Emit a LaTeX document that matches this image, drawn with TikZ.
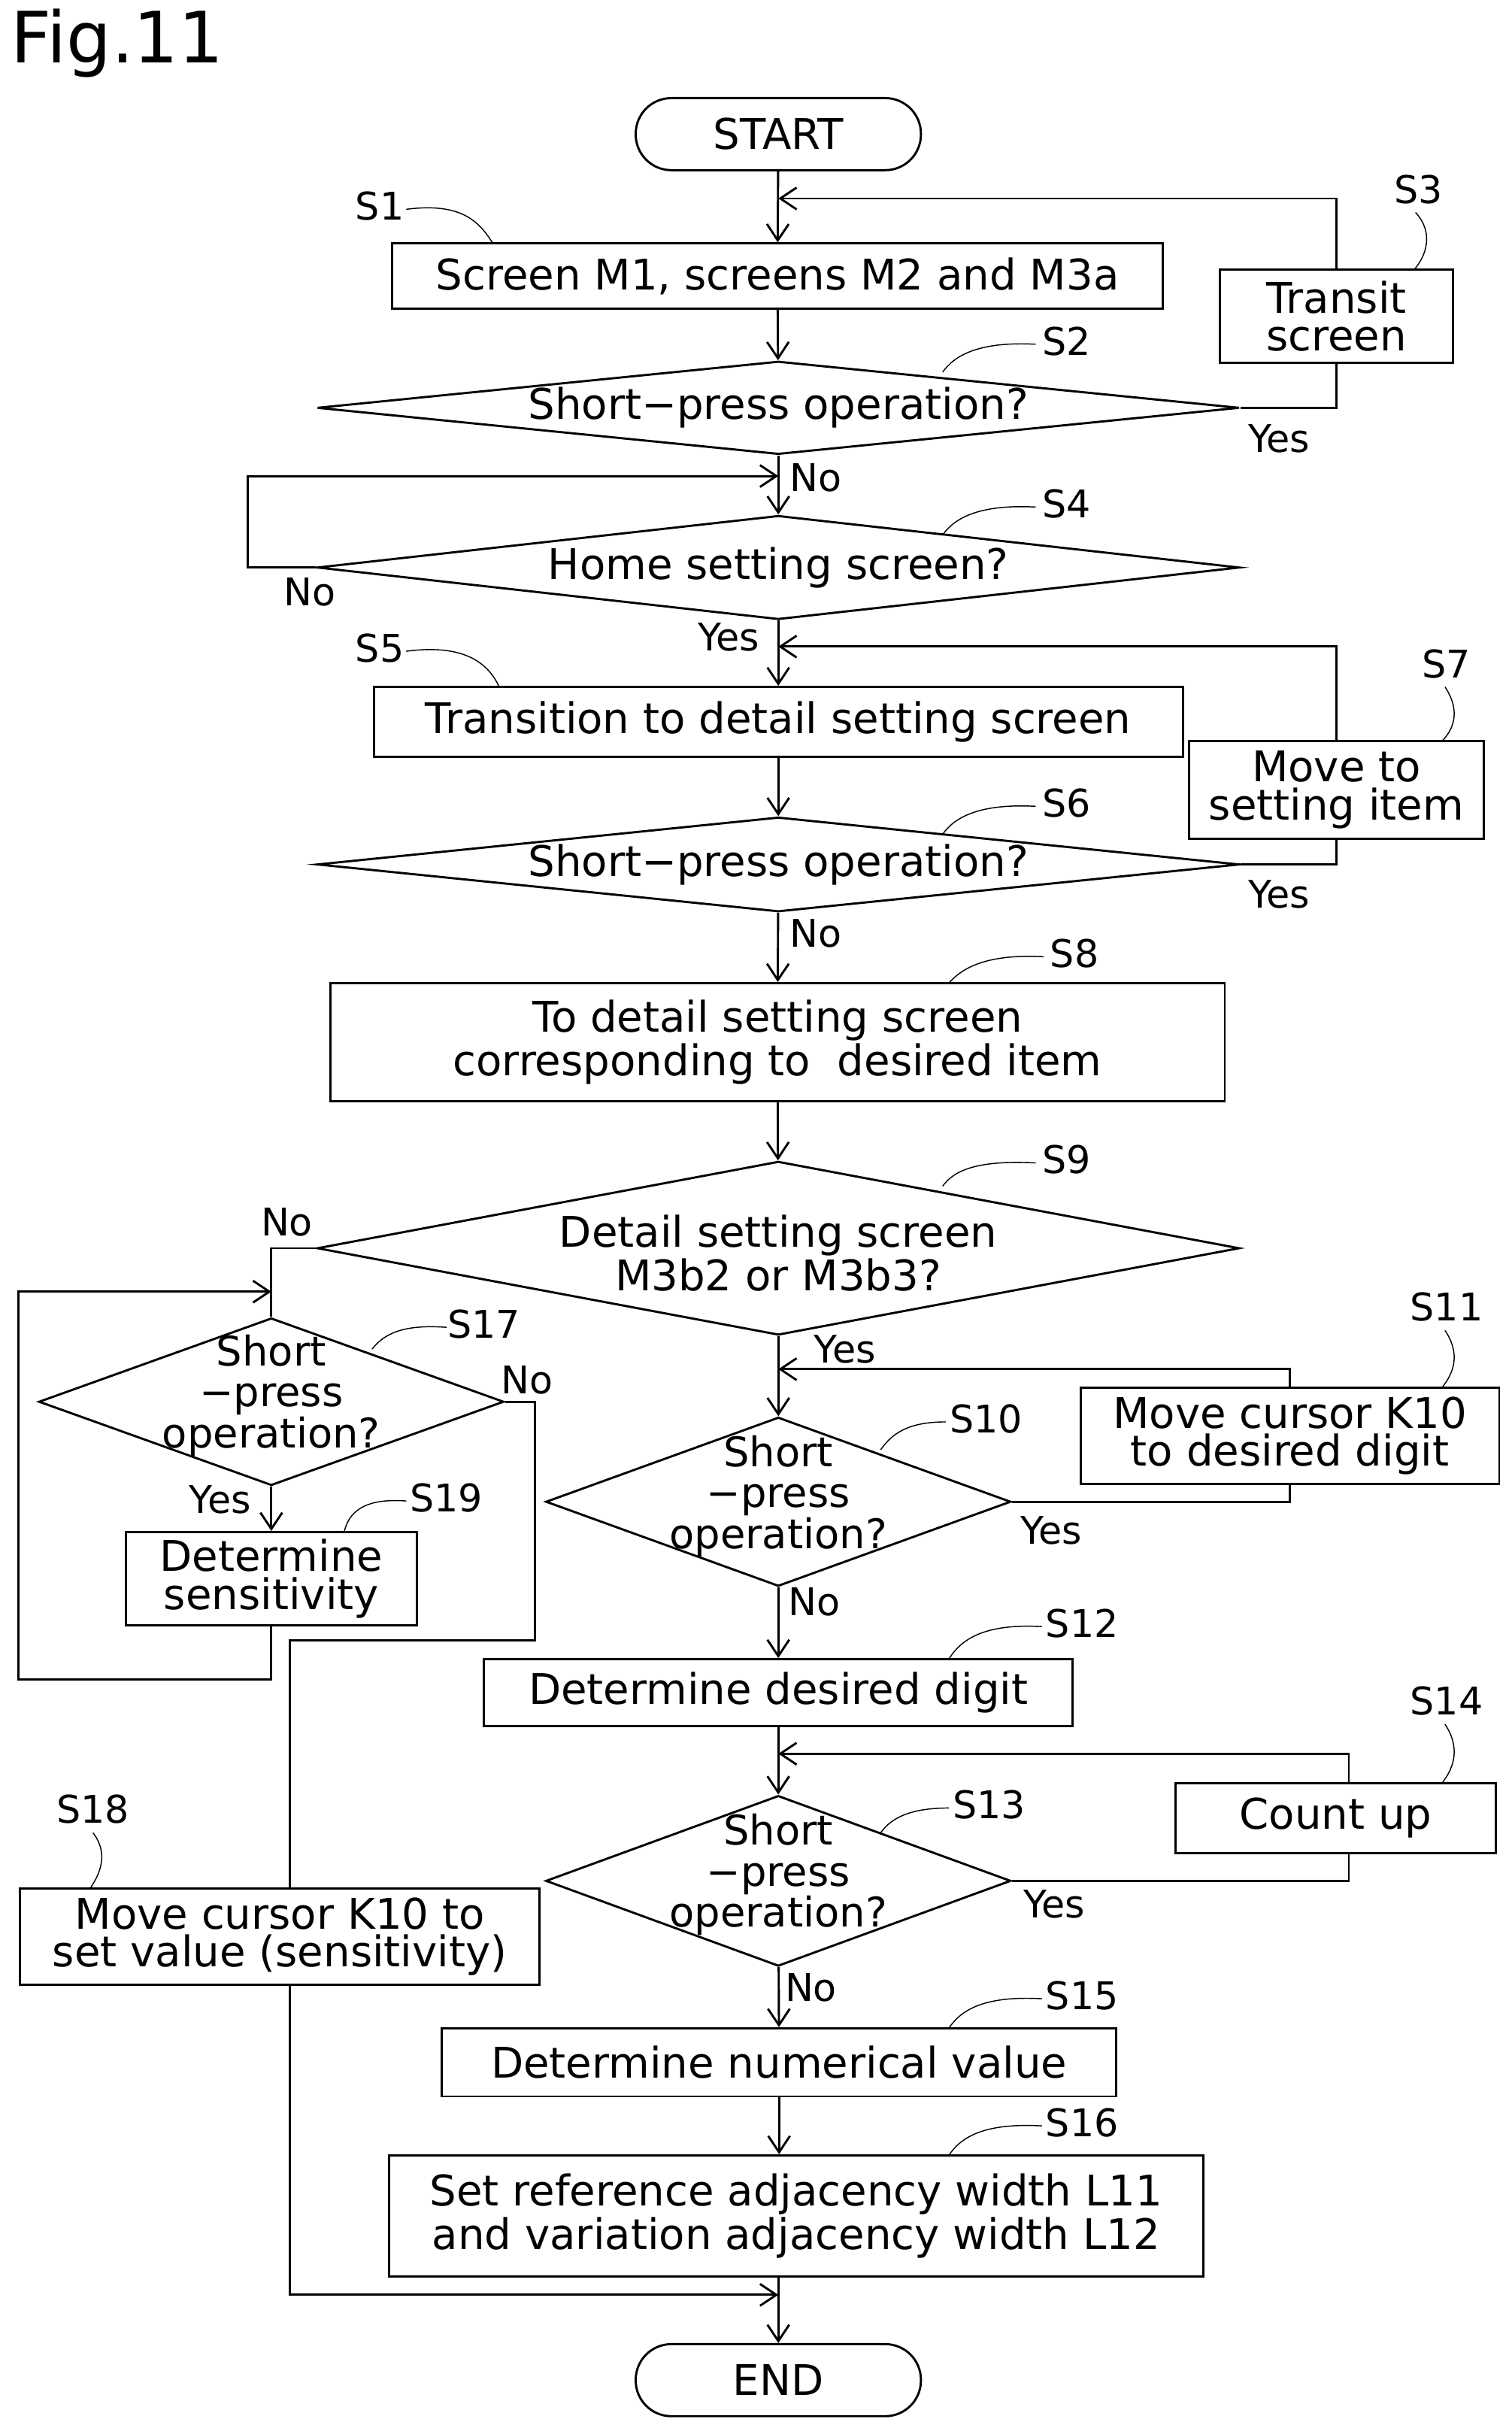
\documentclass[tikz,border=0pt]{standalone}
\usepackage{fontspec}
\setmainfont{DejaVu Sans}
\usetikzlibrary{shapes.geometric,arrows.meta}
\begin{document}
\begin{tikzpicture}[x=0.02cm,y=-0.02cm,
  every node/.style={font=\fontsize{15.5}{18}\selectfont,align=center,inner sep=1pt},
  box/.style={draw,thick,rectangle},
  term/.style={draw,thick,rectangle,rounded corners=0.46cm,minimum width=3.68cm,minimum height=0.93cm},
  dec/.style={draw,thick,diamond,inner sep=0pt},
  small/.style={font=\fontsize{15}{15}\selectfont},
  lab/.style={font=\fontsize{14}{16}\selectfont},
  ar/.style={thick,-{Straight Barb[length=6pt,width=8pt]}},
  ln/.style={thick},
  ld/.style={thin}]
\useasboundingbox (0,0) rectangle (975,1562);
\node[font=\fontsize{26}{30}\selectfont,anchor=west] (fig) at (5,28) {Fig.11};
\node[term] (start) at (502,86.5) {START};
\node[box,minimum width=9.94cm,minimum height=0.84cm] (s1) at (501.5,178) {Screen M1, screens M2 and M3a};
\node[box,minimum width=3.0cm,minimum height=1.2cm,inner sep=0pt] (s3) at (862,204) {Transit\\[-4pt]screen};
\node[dec,minimum width=11.9cm,minimum height=1.2cm,shape aspect=9.92] (s2) at (502,263) {};
\node (t2) at (502,263) {Short−press operation?};
\node[dec,minimum width=11.9cm,minimum height=1.34cm,shape aspect=8.88] (s4) at (502,366) {};
\node (t4) at (502,366) {Home setting screen?};
\node[box,minimum width=10.44cm,minimum height=0.9cm] (s5) at (502,465.5) {Transition to detail setting screen};
\node[box,minimum width=3.8cm,minimum height=1.26cm,inner sep=0pt] (s7) at (862,509.5) {Move to\\[-4pt]setting item};
\node[dec,minimum width=11.9cm,minimum height=1.22cm,shape aspect=9.75] (s6) at (502,557.5) {};
\node (t6) at (502,557.5) {Short−press operation?};
\node[box,minimum width=11.54cm,minimum height=1.52cm] (s8) at (501.5,672) {To detail setting screen\\[-2pt]corresponding to\ \ desired item};
\node[dec,minimum width=11.9cm,minimum height=2.24cm,shape aspect=5.31] (s9) at (502,805) {};
\node (t9) at (502,808) {Detail setting screen\\[-2pt]M3b2 or M3b3?};
\node[dec,minimum width=6.0cm,minimum height=2.16cm,shape aspect=2.78] (s17) at (175,904) {};
\node[small] (t17) at (175,900) {Short\\−press\\operation?};
\node[box,minimum width=3.76cm,minimum height=1.2cm,inner sep=0pt] (s19) at (175,1018) {Determine\\[-4pt]sensitivity};
\node[box,minimum width=6.7cm,minimum height=1.24cm,inner sep=0pt] (s18) at (180.5,1249) {Move cursor K10 to\\[-4pt]set value (sensitivity)};
\node[dec,minimum width=6.0cm,minimum height=2.18cm,shape aspect=2.75] (s10) at (502,968.5) {};
\node[small] (t10) at (502,965) {Short\\−press\\operation?};
\node[box,minimum width=5.4cm,minimum height=1.24cm,inner sep=0pt] (s11) at (832,926) {Move cursor K10\\[-4pt]to desired digit};
\node[box,minimum width=7.6cm,minimum height=0.86cm] (s12) at (502,1091.5) {Determine desired digit};
\node[box,minimum width=4.14cm,minimum height=0.9cm] (s14) at (861.5,1172.5) {Count up};
\node[dec,minimum width=6.0cm,minimum height=2.2cm,shape aspect=2.73] (s13) at (502,1213) {};
\node[small] (t13) at (502,1209) {Short\\−press\\operation?};
\node[box,minimum width=8.7cm,minimum height=0.88cm] (s15) at (502.5,1330) {Determine numerical value};
\node[box,minimum width=10.5cm,minimum height=1.56cm] (s16) at (513.5,1429) {Set reference adjacency width L11\\[-2pt]and variation adjacency width L12};
\node[term] (end) at (502,1535) {END};
% coordinates
\coordinate (j1) at (502,128);
\coordinate (j4) at (502,307);
\coordinate (j5) at (502,417);
\coordinate (j10) at (502,883);
\coordinate (j13) at (502,1131);
\coordinate (jend) at (502,1480);
\coordinate (j17) at (175,833);
% main flow
\draw[ar] (start) -- (s1);
\draw[ar] (s1) -- (s2);
\draw[ar] (s2) -- (s4);
\draw[ar] (s4) -- (s5);
\draw[ar] (s5) -- (s6);
\draw[ar] (s6) -- (s8);
\draw[ar] (s8) -- (s9);
\draw[ar] (s9) -- (s10);
\draw[ar] (s10) -- (s12);
\draw[ar] (s12) -- (s13);
\draw[ar] (s13) -- (s15);
\draw[ar] (s15.south) -- (s15.south |- s16.north);
\draw[ar] (s16.south -| end) -- (end);
% loops
\draw[ln] (s2.east) -| (s3.south);
\draw[ar] (s3.north) |- (j1);
\draw[ar] (s4.west) -- (160,366) |- (j4);
\draw[ln] (s6.east) -| (s7.south);
\draw[ar] (s7.north) |- (j5);
\draw[ln] (s10.east) -| (s11.south);
\draw[ar] (s11.north) |- (j10);
\draw[ln] (s13.east) -| (870,1195);
\draw[ar] (870,1150) |- (j13);
% left branch
\draw[ln] (s9.west) -| (s17.north);
\draw[ar] (s17) -- (s19);
\draw[ar] (s19.south) -- (175,1083) -- (12,1083) |- (j17);
\draw[ln] (s17.east) -- (345,904) -- (345,1058) -- (187,1058) -- (187,1218);
\draw[ar] (187,1280) |- (jend);
% yes/no
\node[lab] (y2) at (825,283) {Yes};
\node[lab] (n2) at (526,308) {No};
\node[lab] (n4) at (200,382) {No};
\node[lab] (y4) at (470,411) {Yes};
\node[lab] (y6) at (825,577) {Yes};
\node[lab] (n6) at (526,602) {No};
\node[lab] (n9) at (185,788) {No};
\node[lab] (y9) at (545,870) {Yes};
\node[lab] (n17) at (340,890) {No};
\node[lab] (y17) at (142,967) {Yes};
\node[lab] (y10) at (678,987) {Yes};
\node[lab] (n10) at (525,1033) {No};
\node[lab] (y13) at (680,1228) {Yes};
\node[lab] (n13) at (523,1282) {No};
% step labels
\node[lab] (l1) at (245,133) {S1};
\draw[ld] (262,135) .. controls (300,130) and (310,145) .. (318,157);
\node[lab] (l2) at (688,220) {S2};
\draw[ld] (668,222) .. controls (630,220) and (615,230) .. (608,240);
\node[lab] (l3) at (915,122) {S3};
\draw[ld] (913,137) .. controls (925,150) and (920,165) .. (912,174);
\node[lab] (l4) at (688,325) {S4};
\draw[ld] (668,327) .. controls (630,325) and (615,335) .. (608,345);
\node[lab] (l5) at (245,418) {S5};
\draw[ld] (262,420) .. controls (300,415) and (315,428) .. (322,443);
\node[lab] (l6) at (688,518) {S6};
\draw[ld] (668,520) .. controls (630,518) and (615,528) .. (608,538);
\node[lab] (l7) at (933,428) {S7};
\draw[ld] (932,443) .. controls (942,458) and (938,470) .. (930,478);
\node[lab] (l8) at (693,615) {S8};
\draw[ld] (673,617) .. controls (635,615) and (620,625) .. (612,634);
\node[lab] (l9) at (688,748) {S9};
\draw[ld] (668,750) .. controls (630,748) and (615,755) .. (608,765);
\node[lab] (l17) at (312,854) {S17};
\draw[ld] (288,856) .. controls (260,854) and (248,860) .. (240,870);
\node[lab] (l19) at (288,966) {S19};
\draw[ld] (262,968) .. controls (235,966) and (225,975) .. (222,988);
\node[lab] (l18) at (60,1167) {S18};
\draw[ld] (60,1182) .. controls (70,1195) and (65,1208) .. (58,1218);
\node[lab] (l10) at (636,915) {S10};
\draw[ld] (610,917) .. controls (585,917) and (575,925) .. (568,935);
\node[lab] (l11) at (933,843) {S11};
\draw[ld] (932,858) .. controls (942,873) and (938,885) .. (930,895);
\node[lab] (l12) at (698,1047) {S12};
\draw[ld] (672,1049) .. controls (635,1047) and (620,1057) .. (612,1070);
\node[lab] (l14) at (933,1097) {S14};
\draw[ld] (932,1112) .. controls (942,1127) and (938,1140) .. (930,1150);
\node[lab] (l13) at (638,1164) {S13};
\draw[ld] (612,1166) .. controls (588,1166) and (575,1172) .. (568,1182);
\node[lab] (l15) at (698,1287) {S15};
\draw[ld] (672,1289) .. controls (635,1287) and (620,1296) .. (612,1308);
\node[lab] (l16) at (698,1369) {S16};
\draw[ld] (672,1371) .. controls (635,1369) and (620,1378) .. (612,1390);
\end{tikzpicture}
\end{document}
